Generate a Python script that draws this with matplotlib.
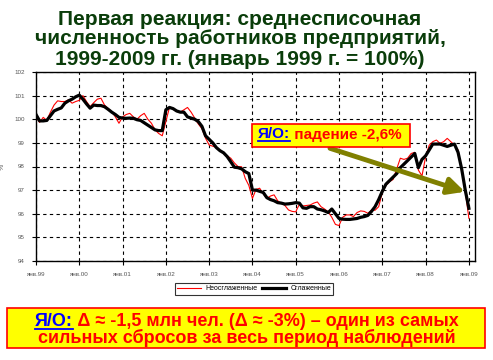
import matplotlib
matplotlib.use('Agg')
import matplotlib.pyplot as plt
from matplotlib.patches import Rectangle
from matplotlib.lines import Line2D

plt.rcParams['font.family'] = ['Liberation Sans', 'DejaVu Sans']

# месяцы с января 1999 по январь 2009
months = list(range(121))
tick_pos = list(range(0, 121, 12))
tick_labels = ['янв.99', 'янв.00', 'янв.01', 'янв.02', 'янв.03', 'янв.04',
               'янв.05', 'янв.06', 'янв.07', 'янв.08', 'янв.09']

raw = [100.1, 99.87, 100.08, 99.95, 100.3, 100.6, 100.78, 100.75, 100.75, 100.82,
       100.68, 100.75, 100.8, 101.0, 100.75, 100.53, 100.7, 100.85, 100.89, 100.6,
       100.45, 100.32, 100.1, 99.83, 100.1, 100.2, 100.25, 100.1, 100.0, 100.15,
       100.25, 100.0, 99.83, 99.55, 99.4, 99.3, 99.9, 100.5, 100.45, 100.35,
       100.3, 100.4, 100.5, 100.3, 100.05, 99.8, 99.6, 99.2, 98.91, 98.86,
       98.8, 98.7, 98.55, 98.45, 98.35, 98.15, 98.0, 97.99, 97.5, 97.2,
       96.65, 97.03, 97.08, 96.85, 96.65, 96.75, 96.8, 96.55, 96.45, 96.35,
       96.16, 96.1, 96.08, 96.4, 96.33, 96.35, 96.37, 96.45, 96.5, 96.3,
       96.2, 96.08, 95.85, 95.55, 95.5, 95.85, 95.95, 95.95, 95.88, 96.05,
       96.12, 96.1, 96.02, 96.15, 96.15, 96.3, 96.9, 97.2, 97.36, 97.45,
       97.9, 98.35, 98.3, 98.35, 98.55, 98.6, 97.85, 97.6, 98.4, 98.9,
       99.05, 99.12, 98.98, 99.05, 99.19, 99.05, 98.91, 98.7, 97.85, 96.95,
       95.81]

smooth = [100.2, 99.93, 99.93, 99.95, 100.15, 100.35, 100.42, 100.48, 100.68, 100.78,
          100.85, 100.95, 101.02, 100.85, 100.65, 100.47, 100.6, 100.58, 100.58, 100.53,
          100.42, 100.3, 100.2, 100.08, 100.05, 100.04, 100.05, 100.04, 99.98, 99.95,
          99.85, 99.75, 99.65, 99.55, 99.52, 99.52, 100.4, 100.5, 100.45, 100.35,
          100.3, 100.3, 100.1, 100.05, 100.0, 99.9, 99.7, 99.3, 99.15, 99.0,
          98.8, 98.67, 98.58, 98.42, 98.2, 97.97, 97.95, 97.9, 97.78, 97.7,
          97.0, 97.0, 96.95, 96.9, 96.68, 96.6, 96.55, 96.47, 96.45, 96.41,
          96.42, 96.44, 96.47, 96.45, 96.25, 96.23, 96.3, 96.3, 96.2, 96.17,
          96.12, 96.05, 96.2, 96.0, 95.8, 95.77, 95.76, 95.76, 95.78, 95.8,
          95.85, 95.88, 95.93, 96.1, 96.3, 96.6, 96.95, 97.25, 97.4, 97.55,
          97.7, 97.95, 98.1, 98.25, 98.4, 98.55, 97.95, 98.3, 98.45, 98.7,
          98.95, 98.95, 98.95, 98.9, 98.85, 98.9, 98.95, 98.6, 97.9, 97.0,
          96.23]

W, H = 493, 360
fig = plt.figure(figsize=(W / 100, H / 100), dpi=100)
ax = fig.add_axes([36 / W, 1 - 261 / H, 439 / W, 189 / H])

ax.plot(months, raw, color='red', lw=0.8, label='Неосглаженные')
ax.plot(months, smooth, color='black', lw=2.3, label='Сглаженные')

ax.set_xlim(0, 121.7)
ax.set_ylim(94, 102)
ax.set_yticks(range(94, 103))
ax.set_xticks(tick_pos)
ax.set_xticklabels(tick_labels)
ax.tick_params(axis='both', labelsize=4.5, labelcolor='#555555', length=3, width=0.8, pad=5)
ax.grid(True, color='black', linestyle=(0, (3, 3)), linewidth=0.8)
for s in ax.spines.values():
    s.set_linewidth(1.0)
ax.set_ylabel('%', fontsize=5, color='#555555', rotation=90, labelpad=6)

leg = ax.legend(loc='upper center', bbox_to_anchor=(0.497, -0.1), ncol=2, fontsize=5,
                frameon=True, fancybox=False, edgecolor='black', handlelength=3.5,
                columnspacing=0.6, handletextpad=0.6, borderpad=0.3)
leg.get_frame().set_linewidth(0.8)

# стрелка
ax.annotate('', xy=(118.9, 96.93), xytext=(81.5, 98.77),
            arrowprops=dict(arrowstyle='-|>,head_length=1.0,head_width=0.5',
                            color='#808000', lw=3.5, shrinkA=0, shrinkB=0))

# заголовок
title_lines = ['Первая реакция: среднесписочная',
               'численность работников предприятий,',
               '1999-2009 гг. (январь 1999 г. = 100%)']
title_base = [25, 44.5, 65]
for t, yb in zip(title_lines, title_base):
    fig.text(240 / W, 1 - yb / H, t, ha='center', va='baseline',
             fontsize=15, fontweight='bold', color='#0a3d0a')

r = fig.canvas.get_renderer()


def rich(x, y, parts, size, center=False):
    items = []
    total = 0
    for s, c, ul in parts:
        t = fig.text(0, y / H, s, color=c, fontsize=size, fontweight='bold',
                     va='baseline', ha='left', zorder=6)
        w = t.get_window_extent(renderer=r).width
        items.append((t, w, ul))
        total += w
    cur = x - total / 2 if center else x
    for t, w, ul in items:
        t.set_x(cur / W)
        if ul:
            fig.add_artist(Line2D([cur / W, (cur + w) / W],
                                  [(y - 2.5) / H, (y - 2.5) / H], color=t.get_color(),
                                  lw=1.3, zorder=6))
        cur += w


fig.add_artist(Rectangle((252 / W, 1 - 147 / H), 158 / W, 23 / H, transform=fig.transFigure,
                         facecolor='yellow', edgecolor='red', lw=1.2, zorder=5))
rich(258, H - 138.5, [('Я/О:', 'blue', True), (' падение -2,6%', 'red', False)], 11)

fig.add_artist(Rectangle((7 / W, 1 - 348 / H), 478 / W, 40 / H, transform=fig.transFigure,
                         facecolor='yellow', edgecolor='red', lw=1.2, zorder=5))
rich(247, H - 326.5, [('Я/О:', 'blue', True),
                      (' Δ ≈ -1,5 млн чел. (Δ ≈ -3%) – один из самых', 'red', False)],
     13, center=True)
rich(247, H - 343, [('сильных сбросов за весь период наблюдений', 'red', False)],
     13, center=True)

fig.savefig('out.png', dpi=100)
